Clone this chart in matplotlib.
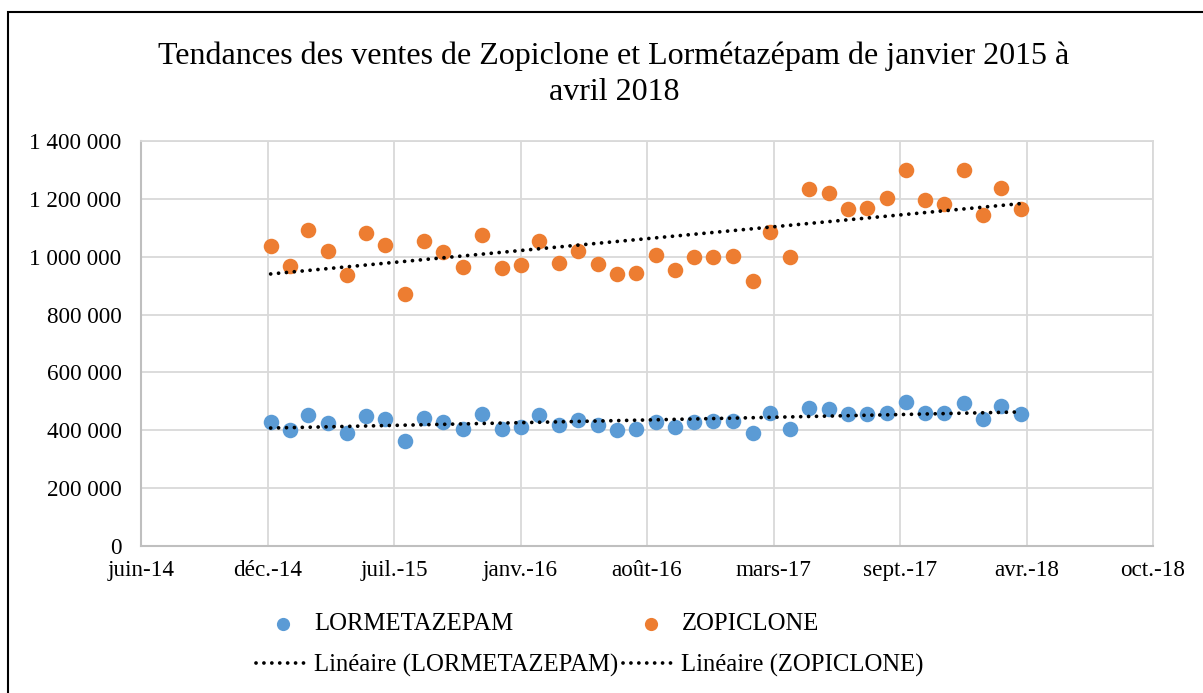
import matplotlib
matplotlib.use("Agg")
import matplotlib.pyplot as plt
import matplotlib.dates as mdates
from matplotlib.patches import Rectangle
import numpy as np
import pandas as pd

plt.rcParams['font.family'] = ['Liberation Serif', 'DejaVu Serif']

# Ventes mensuelles, janvier 2015 -> avril 2018
mois = pd.date_range('2015-01-01', '2018-04-01', freq='MS')
lormetazepam = [430000, 401000, 452000, 424000, 390000, 449000, 438000, 364000,
                441000, 429000, 405000, 457000, 403000, 410000, 452000, 417000,
                436000, 418000, 401000, 404000, 429000, 410000, 430000, 432000,
                433000, 392000, 461000, 405000, 476000, 472000, 455000, 455000,
                461000, 498000, 460000, 460000, 495000, 440000, 483000, 456000]
zopiclone = [1036000, 968000, 1093000, 1020000, 937000, 1081000, 1039000, 871000,
             1054000, 1015000, 965000, 1075000, 962000, 970000, 1055000, 979000,
             1020000, 976000, 940000, 943000, 1005000, 953000, 998000, 1000000,
             1001000, 917000, 1085000, 1000000, 1235000, 1221000, 1165000, 1170000,
             1204000, 1300000, 1197000, 1183000, 1299000, 1143000, 1239000, 1166000]

x_debut = pd.Timestamp('2014-06-10')
x_labels = ['juin-14', 'déc.-14', 'juil.-15', 'janv.-16', 'août-16',
            'mars-17', 'sept.-17', 'avr.-18', 'oct.-18']
y_ticks = [0, 200000, 400000, 600000, 800000, 1000000, 1200000, 1400000]
y_labels = ['0', '200 000', '400 000', '600 000', '800 000',
            '1 000 000', '1 200 000', '1 400 000']

bleu = '#5B9BD5'
orange = '#ED7D31'

fig = plt.figure(figsize=(12.03, 6.93), dpi=100)
ax = fig.add_axes([141 / 1203, 147 / 693, 1012 / 1203, 405 / 693])

x = mdates.date2num(mois)
x0 = mdates.date2num(x_debut)
x_ticks = [x0 + 200 * i for i in range(len(x_labels))]

h1 = ax.scatter(x, lormetazepam, s=125, color=bleu, linewidths=0, zorder=3,
                label='LORMETAZEPAM')
h3 = ax.scatter(x, zopiclone, s=125, color=orange, linewidths=0, zorder=3,
                label='ZOPICLONE')

# courbes de tendance linéaires
tendances = []
for serie, nom in [(lormetazepam, 'LORMETAZEPAM'), (zopiclone, 'ZOPICLONE')]:
    a, b = np.polyfit(x, serie, 1)
    xs = np.array([x[0], x[-1]])
    ln, = ax.plot(xs, a * xs + b, color='black', linewidth=2.7,
                  dashes=(0.01, 2.1), dash_capstyle='round', zorder=4,
                  label=f'Linéaire ({nom})')
    tendances.append(ln)

ax.set_xlim(x_ticks[0], x_ticks[-1])
ax.set_ylim(0, 1400000)
ax.set_xticks(x_ticks)
ax.set_xticklabels(x_labels)
ax.set_yticks(y_ticks)
ax.set_yticklabels(y_labels)
ax.tick_params(length=0, labelsize=16.7)
ax.tick_params(axis='y', pad=14)
ax.tick_params(axis='x', pad=10)
ax.grid(True, color='#D9D9D9', linewidth=1.3)
ax.set_axisbelow(True)
for cote in ['top', 'right']:
    ax.spines[cote].set_color('#D9D9D9')
    ax.spines[cote].set_linewidth(1.3)
for cote in ['left', 'bottom']:
    ax.spines[cote].set_color('#BFBFBF')
    ax.spines[cote].set_linewidth(1.5)

fig.text(614 / 1203, 1 - 74 / 693,
         'Tendances des ventes de Zopiclone et Lormétazépam de janvier 2015 à\navril 2018',
         ha='center', va='center', fontsize=23, linespacing=1.3)

fig.legend([h1, tendances[0], h3, tendances[1]],
           ['LORMETAZEPAM', 'Linéaire (LORMETAZEPAM)', 'ZOPICLONE', 'Linéaire (ZOPICLONE)'],
           ncol=2, loc='center', bbox_to_anchor=(590 / 1203, 1 - 645 / 693),
           frameon=False, fontsize=17.8, handlelength=2.2, handletextpad=0.15,
           columnspacing=0.2, labelspacing=0.75, markerscale=0.85)

# cadre du graphique
fig.patches.append(Rectangle((8 / 1203, -0.1), 1.2, 1 - 12 / 693 + 0.1,
                             transform=fig.transFigure, fill=False,
                             edgecolor='black', linewidth=1.5))

fig.savefig('out.png', dpi=100)
